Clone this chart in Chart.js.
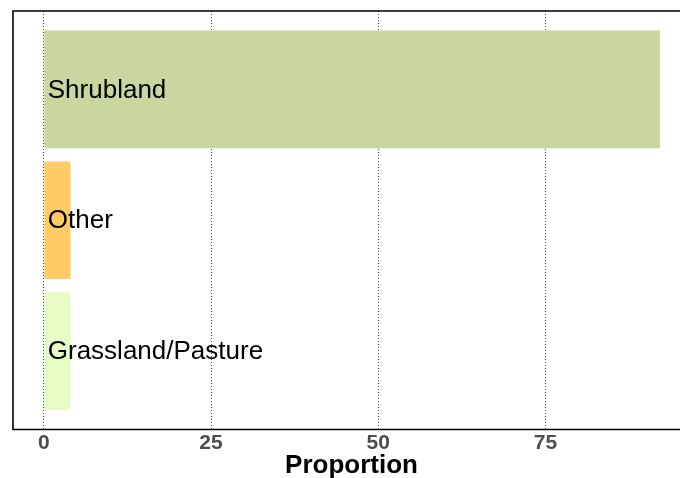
<!DOCTYPE html>
<html>
<head>
<meta charset="utf-8">
<script src="https://cdn.jsdelivr.net/npm/chart.js@4"></script>
<style>
  html, body { margin: 0; padding: 0; background: #fff; overflow: hidden; }
  #wrap { width: 690px; height: 478px; }
</style>
</head>
<body>
<div id="wrap"><canvas id="myChart" width="690" height="478"></canvas></div>
<script>
// categories, top to bottom
const categories = ['Shrubland', 'Other', 'Grassland/Pasture'];
const proportion = [92.1, 4.0, 4.0];
const barColors = ['#c9d6a0', '#fecb66', '#e8fcc6'];
const xTicks = [0, 25, 50, 75];

const fontFamily = '"Liberation Sans", Arial, Helvetica, sans-serif';

// labels written inside the bars, and the panel frame
const labelPlugin = {
    id: 'labels',
    afterDatasetsDraw(chart) {
        const ctx = chart.ctx;
        const x = chart.scales.x;
        const y = chart.scales.y;
        ctx.save();
        ctx.fillStyle = '#000';
        ctx.font = '26px ' + fontFamily;
        ctx.textBaseline = 'middle';
        ctx.textAlign = 'left';
        categories.forEach((c, i) => {
            ctx.fillText(c, x.getPixelForValue(0) + 4, y.getPixelForValue(i) + 1);
        });
        ctx.restore();
    },
    afterDraw(chart) {
        const ctx = chart.ctx;
        const a = chart.chartArea;
        ctx.save();
        ctx.strokeStyle = '#000';
        ctx.lineWidth = 1.6;
        ctx.beginPath();
        ctx.moveTo(a.right + 5, a.top);
        ctx.lineTo(a.left, a.top);
        ctx.lineTo(a.left, a.bottom);
        ctx.lineTo(a.right + 5, a.bottom);
        ctx.stroke();
        ctx.restore();
    }
};

const ctx = document.getElementById('myChart');
const myChart = new Chart(ctx, {
    type: 'bar',
    data: {
        datasets: [{
            data: categories.map((c, i) => ({ x: proportion[i], y: i })),
            backgroundColor: barColors,
            categoryPercentage: 1,
            barPercentage: 0.9
        }]
    },
    options: {
        responsive: false,
        animation: false,
        indexAxis: 'y',
        layout: { padding: { left: 13, top: 11, right: 0, bottom: 0 } },
        scales: {
            x: {
                type: 'linear',
                min: -4.6,
                max: 96.6,
                afterBuildTicks: (s) => { s.ticks = xTicks.map(v => ({ value: v })); },
                afterFit: (s) => { s.height = 48.5; },
                grid: { color: '#444', lineWidth: 1, drawTicks: false },
                border: { display: false, dash: [1, 2] },
                ticks: {
                    color: '#4d4d4d',
                    padding: 1,
                    font: { family: fontFamily, size: 21, weight: 'bold' }
                },
                title: {
                    display: true,
                    text: 'Proportion',
                    color: '#000',
                    padding: { top: 0, bottom: -1 },
                    font: { family: fontFamily, size: 26, weight: 'bold', lineHeight: 1 }
                }
            },
            y: {
                type: 'linear',
                reverse: true,
                offset: false,
                min: -0.6,
                max: 2.6,
                afterBuildTicks: (s) => { s.ticks = categories.map((c, i) => ({ value: i })); },
                display: false
            }
        },
        plugins: {
            legend: { display: false },
            tooltip: { enabled: false }
        }
    },
    plugins: [labelPlugin]
});
</script>
</body>
</html>
